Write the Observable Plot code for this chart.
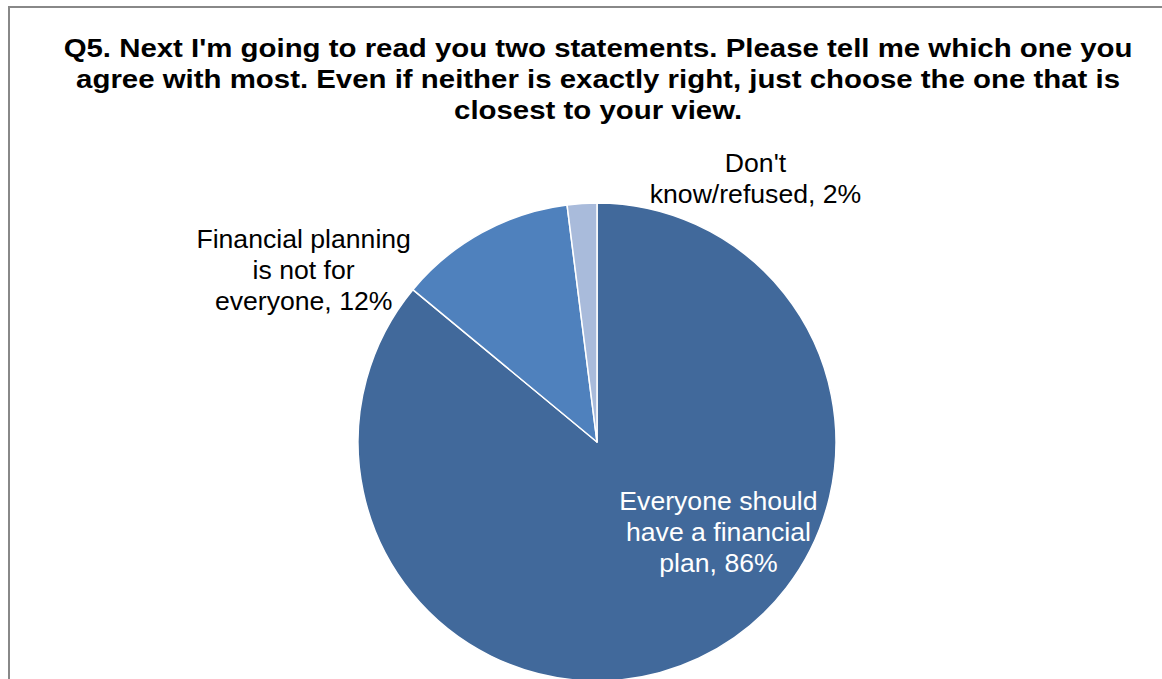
<!DOCTYPE html>
<html>
<head>
<meta charset="utf-8">
<script src="https://cdn.jsdelivr.net/npm/d3@7"></script>
<script src="https://cdn.jsdelivr.net/npm/@observablehq/plot@0.6"></script>
<style>
  html, body { margin: 0; padding: 0; background: #fff; overflow: hidden; }
  #wrap { position: relative; width: 1162px; height: 679px; overflow: hidden; font-family: "Liberation Sans", Arial, sans-serif; }
  #chart { position: absolute; left: 0; top: 0; }
  #frame { position: absolute; left: 8px; top: 6px; width: 1300px; height: 800px; border: 2px solid #888; box-sizing: border-box; }
  #title { position: absolute; left: 0; width: 1196px; top: 33px; text-align: center; font-weight: bold; font-size: 25px; line-height: 31px; color: #000; transform: scaleX(1.176); transform-origin: 597.5px 0; }
</style>
</head>
<body>
<div id="wrap">
  <div id="chart"></div>
  <div id="frame"></div>
  <div id="title">Q5. Next I'm going to read you two statements. Please tell me which one you<br>agree with most. Even if neither is exactly right, just choose the one that is<br>closest to your view.</div>
</div>
<script>
// ---- data ----
const categories = [
  "Everyone should have a financial plan",
  "Financial planning is not for everyone",
  "Don't know/refused"
];
const values = [86, 12, 2];
const labelTexts = [
  "Everyone should\nhave a financial\nplan, 86%",
  "Financial planning\nis not for\neveryone, 12%",
  "Don't\nknow/refused, 2%"
];
const sliceColors = ["#41699B", "#4F81BD", "#A9BBDB"];
const labelColors = ["#ffffff", "#000000", "#000000"];
// label placement (angle clockwise from 12 o'clock, distance in radii)
const labelAngles = [126.3, 300.5, 30.8];
const labelRadii = [0.628, 1.427, 1.291];

const rows = categories.map((c, i) => ({category: c, value: values[i], label: labelTexts[i]}));

// ---- layout ----
const W = 1162, H = 679;
const cx = 597, cy = 442, R = 239; // pie center and radius in px

const color = Plot.scale({color: {domain: categories, range: sliceColors}});

const pieData = d3.pie().sort(null).value(d => d.value)(rows);
const labels = rows.map((d, i) => {
  const a = labelAngles[i] * Math.PI / 180;
  return {...d, lx: Math.sin(a) * labelRadii[i], ly: Math.cos(a) * labelRadii[i], fill: labelColors[i]};
});

function pieMark(index, scales) {
  const x0 = scales.x(0), y0 = scales.y(0);
  const r = scales.x(1) - scales.x(0);
  const arc = d3.arc().innerRadius(0).outerRadius(r);
  const g = d3.create("svg:g").attr("transform", `translate(${x0},${y0})`);
  g.selectAll("path")
    .data(pieData)
    .join("path")
    .attr("d", arc)
    .attr("fill", d => color.apply(d.data.category))
    .attr("stroke", "#ffffff")
    .attr("stroke-width", 1.5)
    .attr("stroke-linejoin", "round");
  return g.node();
}

const plot = Plot.plot({
  width: W,
  height: H,
  margin: 0,
  style: {background: "transparent", fontFamily: "'Liberation Sans', Arial, sans-serif"},
  x: {domain: [-cx / R, (W - cx) / R], axis: null},
  y: {domain: [-(H - cy) / R, cy / R], axis: null},
  marks: [
    pieMark,
    Plot.text(labels, {
      x: "lx", y: "ly", text: "label",
      fill: d => d.fill,
      fontSize: 25,
      lineHeight: 1.24,
      textAnchor: "middle"
    })
  ]
});
// slight horizontal stretch of label text to match the reference glyph widths
d3.select(plot).selectAll("text").each(function() {
  const t = this.getAttribute("transform");
  if (t) this.setAttribute("transform", t + " scale(1.065,1)");
});
document.getElementById("chart").appendChild(plot);
</script>
</body>
</html>
